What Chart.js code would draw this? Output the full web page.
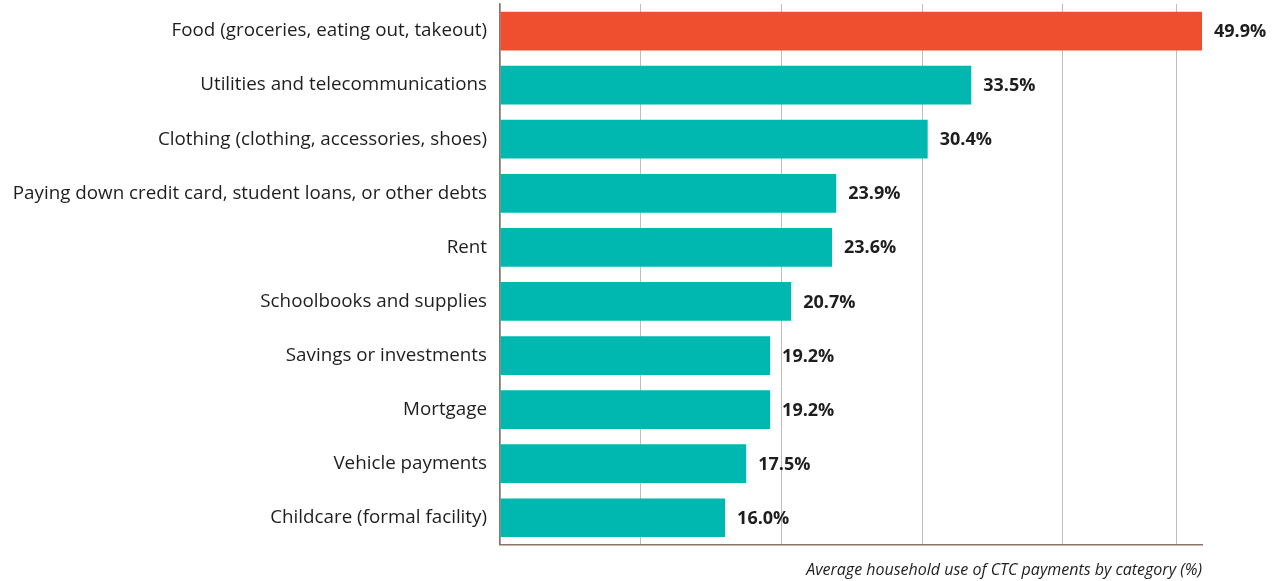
<!DOCTYPE html>
<html>
<head>
<meta charset="utf-8">
<script src="https://cdn.jsdelivr.net/npm/chart.js@4"></script>
<style>
  html, body { margin: 0; padding: 0; background: #fff; }
  #wrap { width: 1278px; height: 581px; }
</style>
</head>
<body>
<div id="wrap"><canvas id="myChart"></canvas></div>
<script>
// Categorías y valores (%)
var categories = [
  'Food (groceries, eating out, takeout)',
  'Utilities and telecommunications',
  'Clothing (clothing, accessories, shoes)',
  'Paying down credit card, student loans, or other debts',
  'Rent',
  'Schoolbooks and supplies',
  'Savings or investments',
  'Mortgage',
  'Vehicle payments',
  'Childcare (formal facility)'
];
var values = [49.9, 33.5, 30.4, 23.9, 23.6, 20.7, 19.2, 19.2, 17.5, 16.0];
// Líneas de la cuadrícula vertical
var gridTicks = [0, 10, 20, 30, 40, 48.1];
var axisTitle = 'Average household use of CTC payments by category (%)';

var barColors = values.map(function (v, i) { return i === 0 ? '#f04f2f' : '#00b8b0'; });

// Etiquetas de valor al final de cada barra
var valueLabels = {
  id: 'valueLabels',
  afterDatasetsDraw: function (chart) {
    var ctx = chart.ctx;
    var meta = chart.getDatasetMeta(0);
    ctx.save();
    ctx.font = 'bold 18px "Open Sans"';
    ctx.fillStyle = '#1e1e1e';
    ctx.textAlign = 'left';
    ctx.textBaseline = 'middle';
    meta.data.forEach(function (bar, i) {
      ctx.fillText(values[i].toFixed(1) + '%', bar.x + 12, bar.y + 1);
    });
    ctx.restore();
  }
};

function noPadding(scale) {
  scale.paddingTop = 0;
  scale.paddingBottom = 0;
  scale.paddingLeft = 0;
  scale.paddingRight = 0;
}

var chart = document.getElementById('myChart').getContext('2d');
var myChart = new Chart(chart, {
  type: 'bar',
  data: {
    labels: categories,
    datasets: [{
      data: values,
      backgroundColor: barColors,
      borderWidth: 0,
      barPercentage: 0.716,
      categoryPercentage: 1
    }]
  },
  plugins: [valueLabels],
  options: {
    indexAxis: 'y',
    responsive: true,
    maintainAspectRatio: false,
    animation: false,
    layout: { padding: { top: 4, right: 76, bottom: 0, left: 0 } },
    plugins: {
      legend: { display: false },
      tooltip: { enabled: false }
    },
    scales: {
      x: {
        min: 0,
        max: 49.9,
        afterBuildTicks: function (scale) {
          scale.ticks = gridTicks.map(function (v) { return { value: v }; });
        },
        afterFit: noPadding,
        ticks: { display: false },
        grid: { color: '#c4bcba', lineWidth: 1, drawTicks: false, tickLength: 0 },
        border: { display: true, color: '#8a7668', width: 1.5 },
        title: {
          display: true,
          text: axisTitle,
          align: 'end',
          color: '#1e1e1e',
          font: { family: 'Open Sans', size: 16, style: 'italic' },
          padding: { top: 16, bottom: 1 }
        }
      },
      y: {
        afterFit: function (scale) {
          noPadding(scale);
          scale.width = 500;
        },
        grid: { display: false, drawTicks: false },
        border: { display: true, color: '#8a7668', width: 1.5 },
        ticks: {
          color: '#1e1e1e',
          padding: 13,
          font: { family: 'Open Sans', size: 18.8 }
        }
      }
    }
  }
});
</script>
</body>
</html>
